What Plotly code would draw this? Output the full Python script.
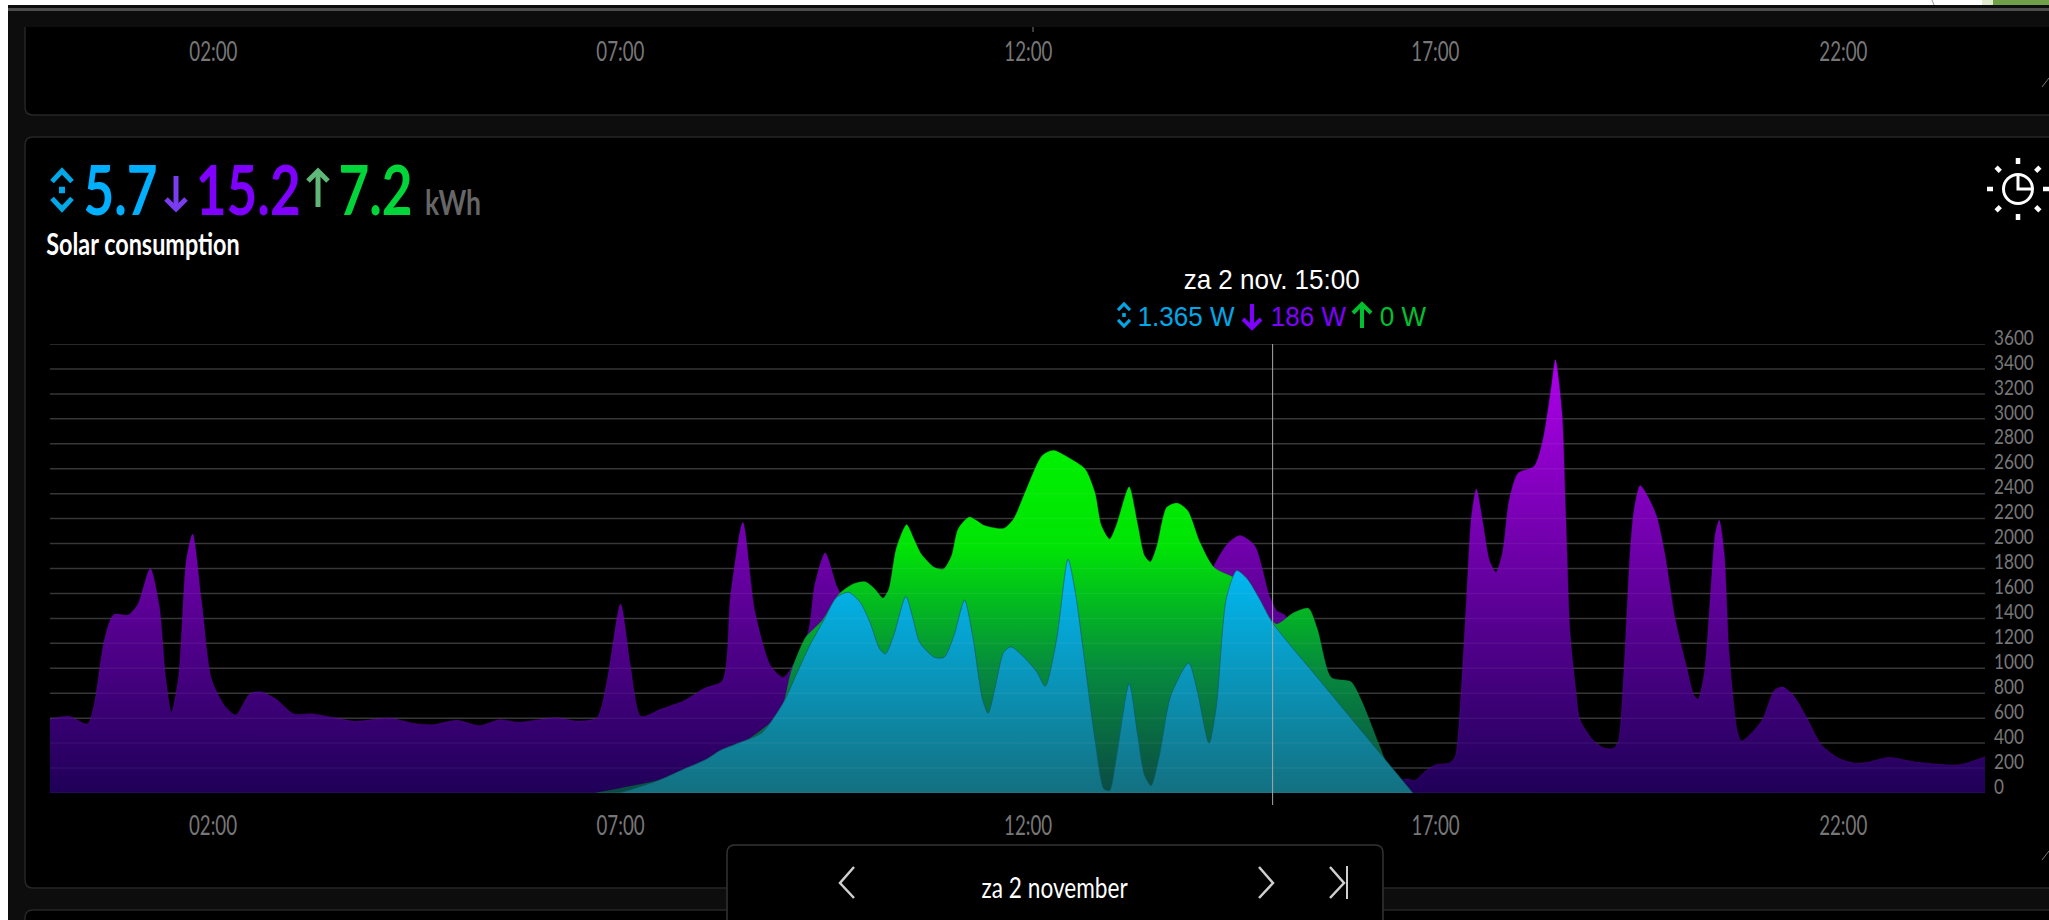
import plotly.graph_objects as go
import math

W, H = 2049, 920

# ---------- data ----------
tick_hours = [2, 7, 12, 17, 22]
tick_labels = ["02:00", "07:00", "12:00", "17:00", "22:00"]
y_ticks = list(range(0, 3601, 200))

purple_hours = [0, .23, .46, .54, .67, .78, .96, 1.08, 1.23, 1.34, 1.42, 1.49, 1.58, 1.67, 1.75, 1.86, 1.98, 2.14, 2.28, 2.45,
                2.58, 2.77, 2.99, 3.2, 3.46, 3.74, 4.18, 4.46, 4.71, 4.99, 5.27, 5.52, 5.74, 6.21, 6.46, 6.71, 6.84, 7.0,
                7.12, 7.25, 7.5, 7.78, 8.03, 8.25, 8.35, 8.5, 8.65, 8.84, 9.0, 9.3, 9.38, 9.51, 9.65, 9.73, 9.9, 10.5, 11.0,
                12.0, 13.0, 13.5, 14.0, 14.28, 14.45, 14.6, 14.78, 14.96, 15.05, 15.16, 15.5, 16.0, 16.5, 16.66, 16.74,
                16.87, 17.0, 17.17, 17.24, 17.3, 17.38, 17.44, 17.5, 17.58, 17.66, 17.74, 17.82, 17.9, 18.01, 18.21, 18.32,
                18.42, 18.47, 18.55, 18.6, 18.65, 18.72, 18.77, 18.93, 19.05, 19.18, 19.24, 19.31, 19.38, 19.43, 19.51,
                19.61, 19.71, 19.81, 19.94, 20.07, 20.17, 20.22, 20.3, 20.37, 20.43, 20.48, 20.54, 20.6, 20.7, 20.75, 20.88,
                21.01, 21.16, 21.26, 21.39, 21.54, 21.74, 21.95, 22.15, 22.3, 22.56, 22.91, 23.42, 23.74]
purple_values = [593, 615, 553, 700, 1235, 1430, 1427, 1515, 1800, 1500, 914, 641, 940, 1850, 2076, 1529, 914, 700, 625, 794,
                 812, 754, 633, 636, 607, 575, 600, 558, 548, 583, 540, 588, 567, 604, 577, 604, 914, 1515,
                 1021, 615, 674, 740, 839, 900, 1582, 2170, 1449, 1021, 927, 1288, 1662, 1925, 1662, 1560, 1350, 900, 600,
                 400, 300, 600, 1400, 1823, 2000, 2064, 1983, 1582, 1462, 1420, 800, 300, 100, 112, 98,
                 172, 226, 241, 291, 677, 1568, 2222, 2438, 2162, 1865, 1770, 1925, 2340, 2563, 2622, 2845,
                 3261, 3475, 3053, 2162, 1271, 826, 588, 425, 365, 356, 410, 974, 1865, 2251, 2465,
                 2370, 2222, 1925, 1390, 1034, 781, 751, 974, 1568, 2073, 2186, 1925, 1123, 499, 416, 484,
                 588, 826, 849, 781, 618, 380, 276, 238, 246, 285, 246, 226, 291]

green_hours = [6.7, 8.0, 8.9, 9.0, 9.09, 9.27, 9.47, 9.68, 9.85, 10.0, 10.12, 10.22, 10.29, 10.38, 10.51, 10.6, 10.69, 10.85,
               10.96, 11.06, 11.14, 11.28, 11.47, 11.7, 11.82, 11.97, 12.17, 12.31, 12.49, 12.7, 12.82, 12.9, 13.0, 13.08,
               13.24, 13.34, 13.43, 13.5, 13.58, 13.7, 13.83, 13.96, 14.11, 14.28, 14.6, 14.9, 15.05, 15.25, 15.44, 15.55,
               15.72, 15.96, 16.1, 16.31, 16.48, 16.66]
green_values = [0, 200, 600, 720, 967, 1248, 1382, 1596, 1676, 1695, 1636, 1564, 1636, 1957, 2152, 2037, 1917, 1810,
                1796, 1903, 2117, 2213, 2144, 2122, 2197, 2424, 2705, 2748, 2692, 2598, 2411, 2144, 2037, 2144,
                2456, 2170, 1903, 1855, 1983, 2291, 2325, 2264, 2010, 1810, 1700, 1450, 1355, 1443, 1481, 1315,
                927, 893, 727, 380, 112, 0]

blue_hours = [6.71, 7.0, 7.21, 7.46, 7.78, 8.06, 8.22, 8.47, 8.74, 9.0, 9.15, 9.32, 9.5, 9.65, 9.8, 9.94, 10.06, 10.18, 10.25,
              10.35, 10.5, 10.59, 10.67, 10.85, 10.97, 11.09, 11.22, 11.32, 11.44, 11.51, 11.6, 11.7, 11.79, 11.97, 12.11,
              12.21, 12.35, 12.49, 12.58, 12.67, 12.82, 12.93, 13.0, 13.08, 13.24, 13.34, 13.43, 13.51, 13.61, 13.75, 13.97,
              14.08, 14.22, 14.31, 14.43, 14.56, 14.69, 14.84, 15.0, 15.6, 16.34, 16.72]
blue_values = [0, 5, 45, 99, 192, 273, 340, 406, 486, 727, 941, 1181, 1395, 1569, 1609, 1529, 1369, 1155, 1115,
               1262, 1577, 1395, 1208, 1088, 1088, 1262, 1548, 1262, 754, 639, 861, 1128, 1173, 1075, 968,
               855, 1235, 1876, 1609, 1181, 433, 32, 19, 273, 879, 486, 139, 59, 299, 780, 1042,
               807, 398, 700, 1556, 1783, 1716, 1556, 1365, 886, 300, 0]

cursor_hour = 15

# ---------- helpers (pixel layout -> paper) ----------
def px(x): return x / W
def py(y): return 1 - y / H

def rect(x0, y0, x1, y1, fill, layer="below"):
    return dict(type="rect", xref="paper", yref="paper", x0=px(x0), x1=px(x1), y0=py(y0), y1=py(y1),
                fillcolor=fill, line=dict(color=fill, width=0), layer=layer)

def rrect(x0, y0, x1, y1, r, fill, line, layer="below"):
    P = lambda x, y: f"{px(x):.5f},{py(y):.5f}"
    path = (f"M{P(x0 + r, y0)} L{P(x1 - r, y0)} Q{P(x1, y0)} {P(x1, y0 + r)} L{P(x1, y1 - r)} Q{P(x1, y1)} {P(x1 - r, y1)} "
            f"L{P(x0 + r, y1)} Q{P(x0, y1)} {P(x0, y1 - r)} L{P(x0, y0 + r)} Q{P(x0, y0)} {P(x0 + r, y0)} Z")
    return dict(type="path", xref="paper", yref="paper", path=path, fillcolor=fill,
                line=dict(color=line, width=1.5), layer=layer)

def poly(points, color, width=2, layer="above"):
    d = "M" + " L".join(f"{px(x):.5f},{py(y):.5f}" for x, y in points)
    return dict(type="path", xref="paper", yref="paper", path=d, line=dict(color=color, width=width), layer=layer)

def updown(x, y0, y1, w, color, width=3):
    m = (y0 + y1) / 2
    h = (y1 - y0)
    return [poly([(x - w, y0 + h * .28), (x, y0), (x + w, y0 + h * .28)], color, width),
            poly([(x - w, y1 - h * .28), (x, y1), (x + w, y1 - h * .28)], color, width),
            poly([(x - width * .6, m), (x + width * .6, m)], color, width * 1.3)]

def arrow(x, y0, y1, w, color, width=3):
    d = 1 if y1 > y0 else -1
    return [poly([(x, y0), (x, y1)], color, width),
            poly([(x - w, y1 - d * w), (x, y1), (x + w, y1 - d * w)], color, width)]

def text(x, y, s, size, color, family="Lato", bold=False):
    return dict(xref="paper", yref="paper", x=px(x), y=py(y), text=f"<b>{s}</b>" if bold else s, showarrow=False,
                xanchor="center", yanchor="middle", font=dict(family=family, size=size, color=color))

# ---------- figure ----------
fig = go.Figure()
fig.add_trace(go.Scatter(x=purple_hours, y=purple_values, mode="lines", fill="tozeroy", name="Consumption",
                         line=dict(shape="spline", smoothing=0.7, color="rgba(120,0,190,0.4)", width=0.8),
                         fillgradient=dict(type="vertical", start=0, stop=3500,
                                           colorscale=[[0, "#1f0058"], [1, "#ae00ea"]]), hoverinfo="skip"))
fig.add_trace(go.Scatter(x=green_hours, y=green_values, mode="lines", fill="tozeroy", name="Return",
                         line=dict(shape="spline", smoothing=0.7, color="rgba(0,120,40,0.4)", width=0.8),
                         fillgradient=dict(type="vertical", start=0, stop=2750,
                                           colorscale=[[0, "#0b4a45"], [.36, "#068a3e"], [.72, "#00e405"], [1, "#00f000"]]),
                         hoverinfo="skip"))
fig.add_trace(go.Scatter(x=blue_hours, y=blue_values, mode="lines", fill="tozeroy", name="Solar",
                         line=dict(shape="spline", smoothing=0.7, color="rgba(10,90,100,0.7)", width=1),
                         fillgradient=dict(type="vertical", start=0, stop=1850,
                                           colorscale=[[0, "#137080"], [1, "#00baf5"]]), hoverinfo="skip"))

shapes = [
    rrect(25, -20, W + 40, 115, 8, "#000000", "#262626"),
    rect(8, 5, W, 27, "#0d0d0d"),
    rect(8, 8, W, 11, "#4d4d4d"),
    rect(0, 0, W, 5, "#ffffff"), rect(0, 0, 8, H, "#ffffff"),
    rect(1982, 0, 1993, 5, "#e0ecd0"), rect(1993, 0, W, 5, "#70a048"),
    rrect(25, 137, W + 40, 888, 8, "#000000", "#262626"),
    rrect(25, 910, W + 40, H + 30, 8, "#000000", "#262626"),
]
# gridlines: one set under the fills, and a faint copy showing through them
for v in y_ticks:
    shapes.append(dict(type="line", xref="paper", yref="y", x0=px(50), x1=px(1985), y0=v, y1=v,
                       line=dict(color="#2d2d2d", width=1.5), layer="below"))
    shapes.append(dict(type="line", xref="paper", yref="y", x0=px(50), x1=px(1985), y0=v, y1=v,
                       line=dict(color="rgba(255,255,255,0.05)", width=1.5), layer="above"))
# cursor
shapes.append(dict(type="line", xref="x", yref="paper", x0=cursor_hour, x1=cursor_hour, y0=py(344), y1=py(805),
                   line=dict(color="#a8a8a8", width=1), layer="above"))
# nav box
shapes.append(rrect(727, 845, 1383, H + 30, 8, "#000000", "#333333", layer="above"))
shapes += [poly([(854, 867), (840, 883), (854, 898)], "#cfcfcf", 2.5),
           poly([(1259, 867), (1273, 883), (1259, 898)], "#cfcfcf", 2.5),
           poly([(1330, 867), (1344, 883), (1330, 898)], "#cfcfcf", 2.5),
           poly([(1347, 866), (1347, 899)], "#cfcfcf", 2)]
# resize handles and small marks
shapes += [poly([(2042, 860), (2049, 851)], "#777777", 1), poly([(2042, 87), (2049, 78)], "#777777", 1),
           poly([(1033, 27), (1033, 32)], "#777777", 1), poly([(1932, 0), (1934, 5)], "#999999", 1)]
# header icons
shapes += updown(62, 171, 209, 10, "#00a8e8", 5)
shapes += arrow(176, 176, 209, 10, "#7a3cf0", 5)
shapes += arrow(318, 207, 171, 10, "#5fb878", 5)
# tooltip icons
shapes += updown(1124, 304, 326, 6, "#00a8e8", 3)
shapes += arrow(1252, 304, 328, 9, "#7f00ff", 4)
shapes += arrow(1362, 328, 304, 9, "#00c030", 4)
# sun/clock icon
cx, cy = 2018, 189
shapes.append(dict(type="circle", xref="paper", yref="paper", x0=px(cx - 14.5), x1=px(cx + 14.5), y0=py(cy - 14.5), y1=py(cy + 14.5),
                   line=dict(color="#ffffff", width=3), layer="above"))
shapes.append(poly([(cx, cy - 14), (cx, cy), (cx + 14, cy)], "#ffffff", 3))
for k in range(8):
    a = k * math.pi / 4
    shapes.append(poly([(cx + 25 * math.cos(a), cy + 25 * math.sin(a)), (cx + 31 * math.cos(a), cy + 31 * math.sin(a))], "#ffffff", 4.5))

annotations = [
    text(120, 188, "5.7", 68, "#00b0ff", bold=True), text(248, 188, "15.2", 68, "#8000ff", bold=True),
    text(375, 188, "7.2", 68, "#00d63a", bold=True),
    text(453, 201, "kWh", 34, "#666666", bold=True),
    text(143, 243, "Solar consumption", 30, "#ffffff", bold=True),
    text(1271, 279, "za 2 nov. 15:00", 28, "#ffffff", "Liberation Sans"),
    text(1186, 316, "1.365 W", 28, "#00a8e8", "Liberation Sans"),
    text(1308, 316, "186 W", 28, "#7f00ff", "Liberation Sans"),
    text(1403, 316, "0 W", 28, "#00c030", "Liberation Sans"),
    text(1055, 886, "za 2 november", 29, "#ffffff"),
]
for h, lab in zip(tick_hours, tick_labels):
    annotations.append(text(50 + h * 81.5, 51, lab, 26, "#777777"))

fig.update_layout(
    width=W, height=H, autosize=False, margin=dict(l=0, r=0, t=0, b=0, pad=0, autoexpand=False),
    paper_bgcolor="#0d0d0d", plot_bgcolor="rgba(0,0,0,0)", showlegend=False,
    font=dict(family="Lato", color="#777777"),
    shapes=shapes, annotations=annotations,
    xaxis=dict(domain=[px(50), px(1985)], range=[0, 23.74], tickvals=tick_hours, ticktext=tick_labels,
               showgrid=False, zeroline=False, showline=False, ticks="", ticklabelstandoff=15, automargin=False,
               tickfont=dict(family="Lato", size=26, color="#777777")),
    yaxis=dict(domain=[py(793), py(344)], range=[0, 3600], side="right", tickvals=y_ticks, automargin=False,
               showgrid=False, zeroline=False, showline=False, ticks="",
               ticklabelstandoff=8, ticklabelshift=-7,
               tickfont=dict(family="Lato", size=22, color="#777777")),
)

post = """
document.body.style.margin='0';document.body.style.overflow='hidden';
document.querySelectorAll('.main-svg text').forEach(function(t){
  var f=t.style.fontFamily||'';var s=parseFloat(t.style.fontSize)||0;
  var r=f.indexOf('Lato')>=0?(s==26?0.72:0.78):0.93;
  var l=t.getComputedTextLength();
  if(l>0){t.setAttribute('textLength',l*r);t.setAttribute('lengthAdjust','spacingAndGlyphs');}
});
"""
fig.write_html("out.html", post_script=post, config=dict(displayModeBar=False))
